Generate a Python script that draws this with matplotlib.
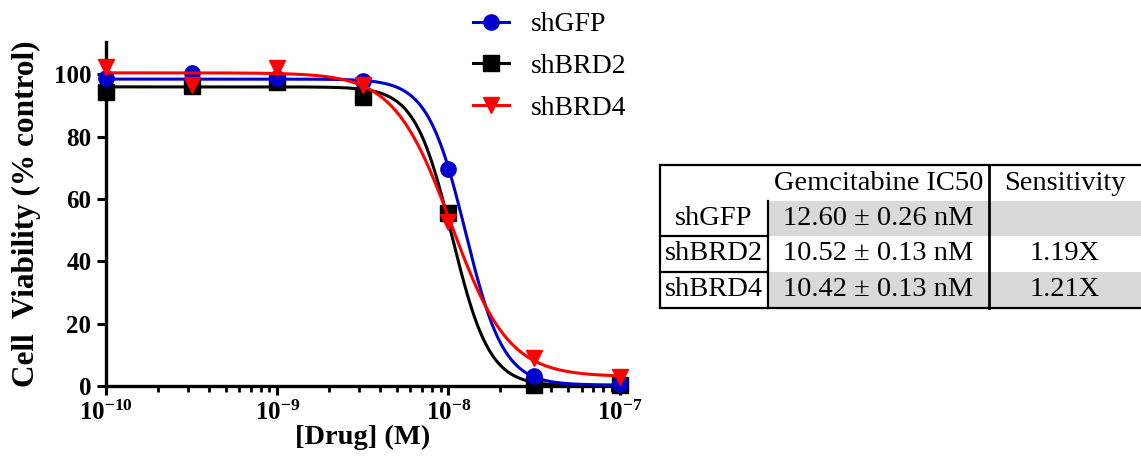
import numpy as np
import matplotlib
matplotlib.use("Agg")
import matplotlib.pyplot as plt
from matplotlib.lines import Line2D
from matplotlib.patches import Rectangle
from matplotlib.ticker import LogLocator, FixedLocator, FuncFormatter, NullFormatter

plt.rcParams['font.family'] = ['Liberation Serif', 'DejaVu Serif']
plt.rcParams['mathtext.fontset'] = 'custom'
plt.rcParams['mathtext.rm'] = 'Liberation Serif:bold'
plt.rcParams['mathtext.it'] = 'Liberation Serif:bold:italic'
plt.rcParams['mathtext.bf'] = 'Liberation Serif:bold'
plt.rcParams['xtick.labelsize'] = 18
plt.rcParams['ytick.labelsize'] = 18

# Drug concentrations (M)
conc = [1e-10, 3.16e-10, 1e-9, 3.16e-9, 1e-8, 3.16e-8, 1e-7]

# Measured viability (% control)
shgfp = [98.8, 100.3, 99.0, 97.8, 69.8, 3.2, 0.5]
shbrd2 = [94.5, 96.3, 97.5, 92.6, 55.4, 0.3, 0.2]
shbrd4 = [102.4, 96.6, 102.2, 96.6, 52.7, 8.9, 3.0]

series_names = ["shGFP", "shBRD2", "shBRD4"]

# Four-parameter logistic fit parameters per line
fit_top = [98.5, 96.0, 100.5]
fit_bottom = [0.3, 0.0, 3.0]
fit_ic50_nm = [12.60, 10.52, 10.42]
fit_hill = [3.9, 4.0, 2.6]

# Summary table
ic50_text = ["12.60 \u00b1 0.26 nM", "10.52 \u00b1 0.13 nM", "10.42 \u00b1 0.13 nM"]
sensitivity_text = ["", "1.19X", "1.21X"]

colors = ["#0000cc", "#000000", "#ff0000"]
markers = ["o", "s", "v"]
zorders = [4, 3, 5]


def logistic(x, top, bottom, ic50, hill):
    return bottom + (top - bottom) / (1.0 + (x / ic50) ** hill)


W, H = 1141, 466
fig = plt.figure(figsize=(W / 100, H / 100), dpi=100)

ax = fig.add_axes([106 / W, (H - 386) / H, (619.5 - 106) / W, (386 - 41.7) / H])
ax.set_xscale("log")
ax.set_xlim(1e-10, 1e-7)
ax.set_ylim(0, 110.5)

xs = np.logspace(-10, -7, 400)
values = [shgfp, shbrd2, shbrd4]
for name, vals, c, m, top, bot, ic, h, z in zip(series_names, values, colors, markers,
                                                fit_top, fit_bottom, fit_ic50_nm,
                                                fit_hill, zorders):
    ax.plot(xs, logistic(xs, top, bot, ic * 1e-9, h), color=c, lw=2.2,
            zorder=z, clip_on=False)
    ax.plot(conc, vals, linestyle="none", marker=m, color=c, markersize=11,
            zorder=z, clip_on=False)

for side in ("top", "right"):
    ax.spines[side].set_visible(False)
for side in ("left", "bottom"):
    ax.spines[side].set_linewidth(2.4)

ax.set_yticks([0, 20, 40, 60, 80, 100])
ax.xaxis.set_major_locator(FixedLocator([1e-10, 1e-9, 1e-8, 1e-7]))
ax.xaxis.set_minor_locator(LogLocator(base=10, subs=np.arange(2, 10), numticks=20))
ax.xaxis.set_minor_formatter(NullFormatter())
ax.xaxis.set_major_formatter(FuncFormatter(lambda v, p: r"$10^{%d}$" % round(np.log10(v))))

ax.tick_params(axis="both", which="major", direction="out", length=6.5, width=2.2,
               labelsize=18, pad=4)
ax.tick_params(axis="x", which="minor", direction="out", length=4, width=2.0)
for lab in ax.get_yticklabels() + ax.get_xticklabels():
    lab.set_fontweight("bold")
    lab.set_fontsize(18)

ax.set_xlabel("[Drug] (M)", fontsize=20.5, fontweight="bold")
ax.xaxis.set_label_coords(0.5, -0.112)
fig.text(26 / W, 1 - 214 / H, "Cell  Viability (% control)", rotation=90,
         fontsize=22.5, fontweight="bold", ha="center", va="center")

# Legend
handles = [Line2D([], [], color=c, marker=m, lw=2.2, markersize=11)
           for c, m in zip(colors, markers)]
fig.legend(handles, series_names, loc="upper left",
           bbox_to_anchor=(473 / W, 1 - 12 / H), frameon=False, fontsize=20,
           handlelength=1.3, handletextpad=0.8, labelspacing=0.58,
           borderpad=0, borderaxespad=0)

# Summary table drawn in pixel coordinates
tab = fig.add_axes([0, 0, 1, 1])
tab.set_xlim(0, W)
tab.set_ylim(H, 0)
tab.axis("off")

x0, x1, x2, x3 = 660, 768, 989, 1141
row_y = [165, 201, 236, 272, 308]
gray = "#d9d9d9"
for r in (0, 2):
    tab.add_patch(Rectangle((x1, row_y[r + 1]), x3 - x1, row_y[r + 2] - row_y[r + 1],
                            facecolor=gray, edgecolor="none", zorder=1))

lw_tab = 1.6
tab.plot([x0, x3], [row_y[0], row_y[0]], color="black", lw=lw_tab, zorder=3)
tab.plot([x0, x3], [row_y[-1], row_y[-1]], color="black", lw=lw_tab, zorder=3)
tab.plot([x0, x0], [row_y[0], row_y[-1]], color="black", lw=lw_tab, zorder=3)
tab.plot([x2, x2], [row_y[0], row_y[-1]], color="black", lw=2.0, zorder=3)
tab.plot([x1, x1], [row_y[1], row_y[-1]], color="black", lw=lw_tab, zorder=3)
for yy in (row_y[2], row_y[3]):
    tab.plot([x0, x1], [yy, yy], color="black", lw=lw_tab, zorder=3)

fs_tab = 20.5
tab.text((x1 + x2) / 2, (row_y[0] + row_y[1]) / 2, "Gemcitabine IC50",
         ha="center", va="center", fontsize=fs_tab, zorder=4)
tab.text((x2 + x3) / 2, (row_y[0] + row_y[1]) / 2, "Sensitivity",
         ha="center", va="center", fontsize=fs_tab, zorder=4)
for i, name in enumerate(series_names):
    yc = (row_y[i + 1] + row_y[i + 2]) / 2
    tab.text((x0 + x1) / 2, yc, name, ha="center", va="center", fontsize=fs_tab, zorder=4)
    tab.text((x1 + x2) / 2, yc, ic50_text[i], ha="center", va="center",
             fontsize=fs_tab, zorder=4)
    tab.text((x2 + x3) / 2, yc, sensitivity_text[i], ha="center", va="center",
             fontsize=fs_tab, zorder=4)

fig.savefig("out.png", dpi=100)
